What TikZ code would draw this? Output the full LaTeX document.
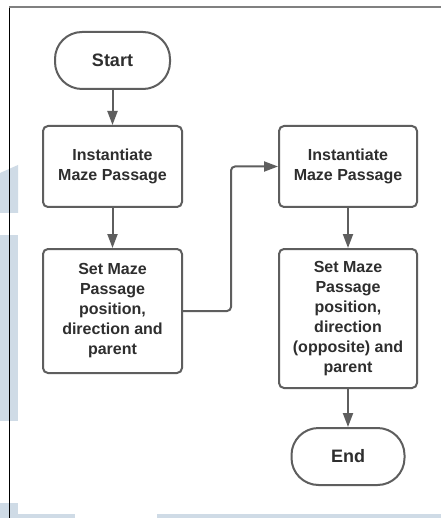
\documentclass[tikz,border=0pt]{standalone}
\usepackage{fontspec}
\setmainfont{Liberation Sans}
\usetikzlibrary{arrows.meta}
\definecolor{edge}{HTML}{5E5E5E}
\definecolor{ink}{HTML}{2E2E2E}
\definecolor{tint}{HTML}{CFDBE6}
\begin{document}
\begin{tikzpicture}[x=1pt,y=-1pt,
  box/.style={draw=edge, line width=2pt, rounded corners=5pt, fill=white,
    text=ink, align=center, inner sep=0pt,
    font=\fontsize{16}{20}\selectfont\bfseries},
  term/.style={box, rounded corners=27pt,
    font=\fontsize{18}{22}\selectfont\bfseries},
  arr/.style={draw=edge, line width=2pt,
    -{Triangle[length=14pt,width=10pt]}}]
\useasboundingbox (0,0) rectangle (441,518);
\fill[white] (0,0) rectangle (441,518);
% pale backdrop blocks
\fill[tint] (0,173) -- (18,165) -- (18,213) -- (0,213) -- cycle;
\fill[tint] (0,235) rectangle (18,421);
\fill[tint] (0,503) rectangle (18,518);
\fill[tint] (18,514) rectangle (75,518);
\fill[tint] (157,514) rectangle (441,518);
% frame
\draw[black, line width=1.4pt] (9.5,7) -- (9.5,518);
\draw[gray, line width=2pt] (9,7) -- (441,7);
% flow
\node[term, minimum width=115pt, minimum height=57pt] (start) at (112.5,60.5) {Start};
\node[box, minimum width=139pt, minimum height=81pt] (inst1) at (112.5,166.5) {Instantiate\\Maze Passage};
\node[box, minimum width=139pt, minimum height=124pt] (set1) at (112.5,311) {Set Maze\\Passage\\position,\\direction and\\parent};
\node[box, minimum width=138pt, minimum height=81pt] (inst2) at (348,166.5) {Instantiate\\Maze Passage};
\node[box, minimum width=138pt, minimum height=139pt] (set2) at (348,318.5) {Set Maze\\Passage\\position,\\direction\\(opposite) and\\parent};
\node[term, minimum width=113pt, minimum height=57pt] (end) at (348,456.5) {End};
\draw[arr] (start) -- (inst1);
\draw[arr] (inst1) -- (set1);
\draw[arr, rounded corners=4pt] (set1.east) -- ++(48,0) |- (inst2.west);
\draw[arr] (inst2) -- (set2);
\draw[arr] (set2) -- (end);
\end{tikzpicture}
\end{document}
